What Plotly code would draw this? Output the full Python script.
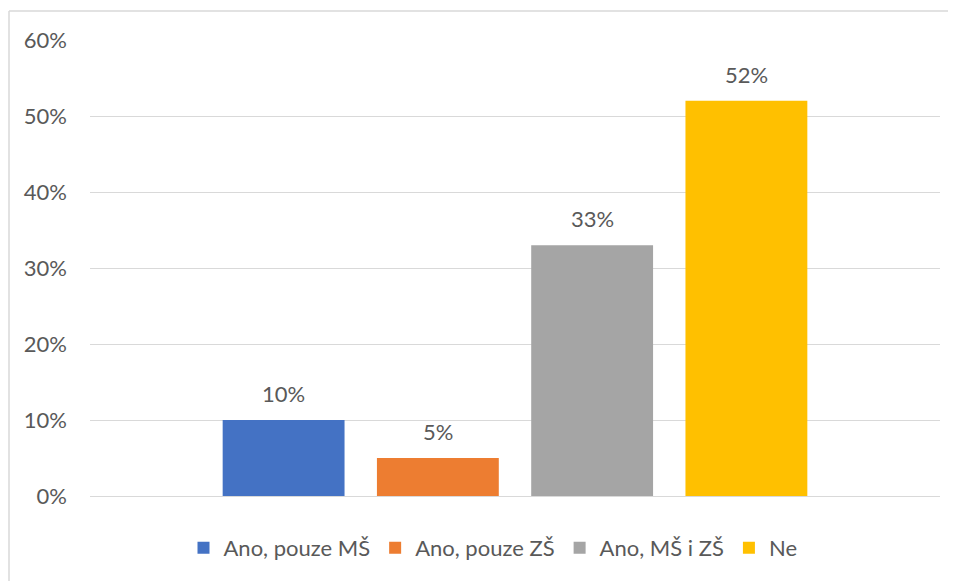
import plotly.graph_objects as go

categories = ["Ano, pouze MŠ", "Ano, pouze ZŠ", "Ano, MŠ i ZŠ", "Ne"]
values = [0.10, 0.05, 0.33, 0.52]
colors = ["#4472C4", "#ED7D31", "#A5A5A5", "#FFC000"]
y_ticks = [0, 0.1, 0.2, 0.3, 0.4, 0.5, 0.6]
y_tick_labels = ["0%", "10%", "20%", "30%", "40%", "50%", "60%"]

FONT = "Lato"
TXT = "#595959"
GRID = "#D9D9D9"
FS = 22

fig = go.Figure()
for cat, val, col in zip(categories, values, colors):
    fig.add_trace(go.Bar(
        x=[cat], y=[val], name=cat,
        marker=dict(color=col, line=dict(width=0)),
        width=0.79,
        hoverinfo="skip",
    ))
    fig.add_annotation(
        x=cat, y=val, xref="x", yref="y",
        text=f"{val:.0%}", showarrow=False,
        yanchor="bottom", yshift=11,
        font=dict(family=FONT, size=FS, color=TXT),
    )

# page body has an 8px margin; work in window pixels and offset
OFF = 8
W, H = 956 - OFF, 581 - OFF
L, R, T, B = 90 - OFF, 16, 40 - OFF, 85
pw, ph = W - L - R, H - T - B

def px(x):
    return (x - OFF - L) / pw

def py(y):
    return (H - B - (y - OFF)) / ph

fig.add_shape(type="line", xref="paper", yref="paper",
              x0=px(9), x1=px(9), y0=py(11), y1=py(600),
              line=dict(color=GRID, width=1.5))
fig.add_shape(type="line", xref="paper", yref="paper",
              x0=px(9), x1=px(980), y0=py(11), y1=py(11),
              line=dict(color=GRID, width=1.5))

fig.update_layout(
    width=W, height=H,
    margin=dict(l=L, r=R, t=T, b=B),
    paper_bgcolor="white", plot_bgcolor="white",
    barmode="overlay",
    font=dict(family=FONT, size=FS, color=TXT),
    showlegend=True,
    legend=dict(
        orientation="h", x=px(493), xanchor="center",
        y=py(548), yanchor="middle",
        font=dict(family=FONT, size=FS, color=TXT),
        itemwidth=30, traceorder="normal",
    ),
    xaxis=dict(
        type="category", categoryorder="array", categoryarray=categories,
        range=[-1.255, 4.255], showticklabels=False, showgrid=False,
        zeroline=False, showline=False, ticks="",
    ),
    yaxis=dict(
        range=[0, 0.6], tickvals=y_ticks, ticktext=y_tick_labels,
        showgrid=True, gridcolor=GRID, gridwidth=1,
        zeroline=True, zerolinecolor=GRID, zerolinewidth=1,
        showline=False, ticks="", ticklabelstandoff=22,
        tickfont=dict(family=FONT, size=FS, color=TXT),
    ),
)

fig.write_html("out.html")
